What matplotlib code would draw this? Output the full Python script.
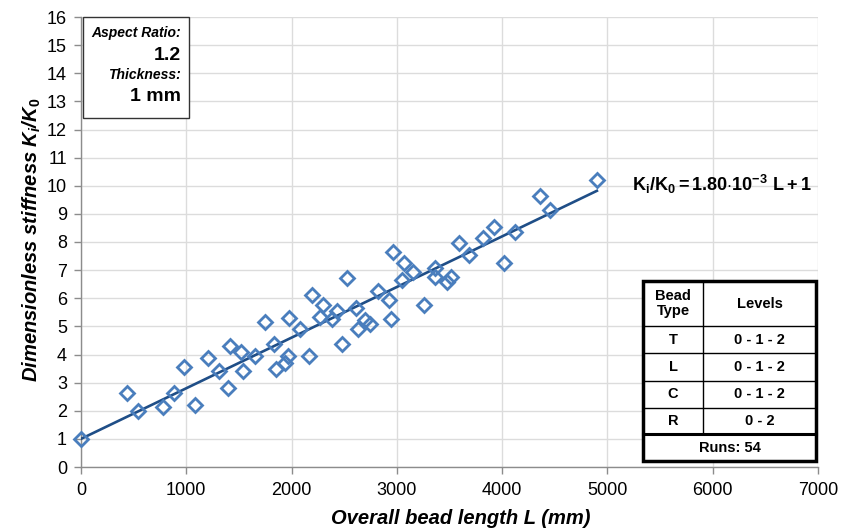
import numpy as np
import matplotlib
matplotlib.use("Agg")
import matplotlib.pyplot as plt
from matplotlib.patches import Rectangle
from matplotlib.lines import Line2D

plt.rcParams['font.family'] = ['Liberation Sans', 'DejaVu Sans']
plt.rcParams['mathtext.fontset'] = 'custom'
plt.rcParams['mathtext.rm'] = 'Liberation Sans:bold'
plt.rcParams['mathtext.it'] = 'Liberation Sans:bold:italic'
plt.rcParams['mathtext.bf'] = 'Liberation Sans:bold'

# bead length L (mm) and measured K_i/K_0
bead_length = [0, 437, 542, 776, 884, 982, 1084, 1210, 1309, 1394,
               1419, 1521, 1537, 1654, 1749, 1835, 1854, 1939, 1968, 1977,
               2082, 2167, 2193, 2272, 2294, 2383, 2430, 2478, 2525, 2611,
               2627, 2700, 2741, 2820, 2921, 2944, 2963, 3048, 3064, 3153,
               3254, 3365, 3365, 3476, 3514, 3587, 3681, 3818, 3919, 4021,
               4125, 4363, 4458, 4902]
stiffness = [1.00, 2.63, 1.99, 2.15, 2.62, 3.57, 2.21, 3.87, 3.43, 2.82,
             4.30, 4.10, 3.42, 3.96, 5.15, 4.37, 3.49, 3.69, 3.96, 5.29,
             4.92, 3.96, 6.10, 5.33, 5.77, 5.26, 5.56, 4.37, 6.71, 5.65,
             4.91, 5.23, 5.08, 6.27, 5.94, 5.26, 7.63, 6.65, 7.25, 6.95,
             5.77, 7.09, 6.77, 6.59, 6.77, 7.96, 7.54, 8.14, 8.55, 7.27,
             8.37, 9.62, 9.15, 10.21]

slope = 1.80e-3
intercept = 1
fit_range = [0, 4900]

bead_types = ["T", "L", "C", "R"]
bead_levels = ["0 - 1 - 2", "0 - 1 - 2", "0 - 1 - 2", "0 - 2"]
n_runs = 54

W, H = 856, 528
fig = plt.figure(figsize=(W / 100, H / 100), dpi=100)
ax = fig.add_axes([81 / W, 1 - 467 / H, (818 - 81) / W, (467 - 17) / H])

ax.set_xlim(0, 7000)
ax.set_ylim(0, 16)
ax.set_xticks(np.arange(0, 7001, 1000))
ax.set_yticks(np.arange(0, 17, 1))
ax.grid(True, color='#dcdcdc', linewidth=1.0)
ax.set_axisbelow(True)
for s in ['top', 'right']:
    ax.spines[s].set_visible(False)
for s in ['left', 'bottom']:
    ax.spines[s].set_color('#8c8c8c')
    ax.spines[s].set_linewidth(1.0)
ax.tick_params(axis='both', labelsize=13, color='#8c8c8c', length=5, width=1)
ax.tick_params(axis='y', pad=5)
ax.tick_params(axis='x', pad=6)

xf = np.array(fit_range)
ax.plot(xf, slope * xf + intercept, color='#1f4e87', linewidth=1.9, zorder=3)
ax.plot(bead_length, stiffness, linestyle='none', marker='D', markersize=7.2,
        markerfacecolor='none', markeredgecolor='#4a7ebd', markeredgewidth=2.0,
        zorder=4, clip_on=False)

ax.set_xlabel("Overall bead length L (mm)", fontsize=14.5, fontweight='bold',
              style='italic')
ax.xaxis.set_label_coords((461 - 81) / 737, -(509 - 467) / 450)
ax.set_ylabel(r"Dimensionless stiffness $K_i$/$K_0$", fontsize=14.5,
              fontweight='bold', style='italic')
ax.yaxis.set_label_coords(-(81 - 43) / 737, (467 - 240) / 450)

# equation
fig.text(632 / W, 1 - 184 / H,
         r"$\mathrm{K_i/K_0 = 1.80{\cdot}10^{-3}\ L + 1}$",
         fontsize=13, ha='left', va='center')

# info box top left
fig.patches.append(Rectangle((83 / W, 1 - 118 / H), (189 - 83) / W, (118 - 17) / H,
                             transform=fig.transFigure, facecolor='white',
                             edgecolor='#333333', linewidth=1.0, zorder=5))
fig.text(181 / W, 1 - 33 / H, "Aspect Ratio:", fontsize=10, fontweight='bold',
         style='italic', ha='right', va='center', zorder=6)
fig.text(181 / W, 1 - 55 / H, "1.2", fontsize=14, fontweight='bold',
         ha='right', va='center', zorder=6)
fig.text(181 / W, 1 - 75 / H, "Thickness:", fontsize=10, fontweight='bold',
         style='italic', ha='right', va='center', zorder=6)
fig.text(181 / W, 1 - 96 / H, "1 mm", fontsize=14, fontweight='bold',
         ha='right', va='center', zorder=6)

# table bottom right
tx0, tx1, tdiv = 643, 816, 703
row_y = [281, 326, 353, 381, 408, 434, 461]


def fx(px):
    return px / W


def fy(py):
    return 1 - py / H


fig.patches.append(Rectangle((fx(tx0), fy(row_y[-1])), fx(tx1) - fx(tx0),
                             fy(row_y[0]) - fy(row_y[-1]),
                             transform=fig.transFigure, facecolor='white',
                             edgecolor='none', zorder=5))
for y in row_y[1:-2]:
    fig.add_artist(Line2D([fx(tx0), fx(tx1)], [fy(y), fy(y)], color='black',
                          linewidth=1.0, zorder=6))
fig.add_artist(Line2D([fx(tx0), fx(tx1)], [fy(row_y[-2]), fy(row_y[-2])],
                      color='black', linewidth=2.2, zorder=6))
fig.add_artist(Line2D([fx(tdiv), fx(tdiv)], [fy(row_y[0]), fy(row_y[-2])],
                      color='black', linewidth=1.0, zorder=6))
fig.patches.append(Rectangle((fx(tx0), fy(row_y[-1])), fx(tx1) - fx(tx0),
                             fy(row_y[0]) - fy(row_y[-1]),
                             transform=fig.transFigure, facecolor='none',
                             edgecolor='black', linewidth=2.5, zorder=7))

c1 = fx((tx0 + tdiv) / 2)
c2 = fx((tdiv + tx1) / 2)
fig.text(c1, fy((row_y[0] + row_y[1]) / 2), "Bead\nType", fontsize=10.5,
         fontweight='bold', ha='center', va='center', linespacing=1.1, zorder=8)
fig.text(c2, fy((row_y[0] + row_y[1]) / 2), "Levels", fontsize=10.5,
         fontweight='bold', ha='center', va='center', zorder=8)
for i, (bt, lv) in enumerate(zip(bead_types, bead_levels)):
    ym = fy((row_y[i + 1] + row_y[i + 2]) / 2)
    fig.text(c1, ym, bt, fontsize=10.5, fontweight='bold', ha='center',
             va='center', zorder=8)
    fig.text(c2, ym, lv, fontsize=10.5, fontweight='bold', ha='center',
             va='center', zorder=8)
fig.text(fx((tx0 + tx1) / 2), fy((row_y[-2] + row_y[-1]) / 2), f"Runs: {n_runs}",
         fontsize=10.5, fontweight='bold', ha='center', va='center', zorder=8)

fig.savefig("out.png", dpi=100)
